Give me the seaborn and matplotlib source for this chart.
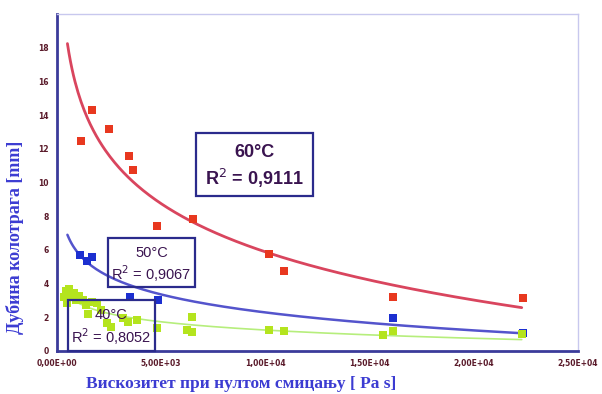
import numpy as np
import pandas as pd
import matplotlib
matplotlib.use("Agg")
import matplotlib.pyplot as plt
import seaborn as sns

# Zero-shear viscosity [Pa s] and rut depth [mm] for each test temperature
x_60 = [1150, 1680, 2480, 3470, 3650, 4820, 6530, 10190, 10910, 16130, 22340]
y_60 = [12.45, 14.3, 13.15, 11.6, 10.75, 7.4, 7.85, 5.75, 4.75, 3.2, 3.12]

x_50 = [1100, 1460, 1660, 3500, 4830, 16130, 22340]
y_50 = [5.7, 5.35, 5.6, 3.22, 3.0, 1.98, 1.05]

x_40 = [340, 430, 580, 670, 480, 820, 910, 1060, 1250, 1390, 1680, 1920, 2110,
        1490, 2400, 2590, 3170, 3410, 3840, 4800, 6230, 6490, 6490, 10190,
        10900, 15660, 16130, 22330]
y_40 = [3.22, 3.58, 3.69, 3.28, 2.86, 3.46, 3.04, 3.28, 3.04, 2.74, 2.92, 2.86, 2.44,
        2.2, 1.67, 1.43, 1.97, 1.73, 1.85, 1.39, 1.25, 2.01, 1.13, 1.25,
        1.19, 0.93, 1.21, 1.01]

labels = ["60°C", "50°C", "40°C"]
r2_text = ["0,9111", "0,9067", "0,8052"]

x_ticks = [0, 5000, 10000, 15000, 20000, 25000]
x_tick_labels = ["0,00E+00", "5,00E+03", "1,00E+04", "1,50E+04", "2,00E+04", "2,50E+04"]
y_ticks = [0, 2, 4, 6, 8, 10, 12, 14, 16, 18, 20]
y_tick_labels = ["0", "2", "4", "6", "8", "10", "12", "14", "16", "18", ""]

trend_x_range = (500, 22300)

df = pd.concat([
    pd.DataFrame({"x": x_60, "y": y_60, "t": labels[0]}),
    pd.DataFrame({"x": x_50, "y": y_50, "t": labels[1]}),
    pd.DataFrame({"x": x_40, "y": y_40, "t": labels[2]}),
], ignore_index=True)

marker_colors = {"60°C": "#e8381f", "50°C": "#1c2fd0", "40°C": "#b4e41e"}
line_colors = {"60°C": "#d9455e", "50°C": "#5454cc", "40°C": "#b6ee7c"}
line_widths = {"60°C": 2.0, "50°C": 1.8, "40°C": 1.2}

sns.set_style("white")
fig = plt.figure(figsize=(6.02, 3.94), dpi=100)
ax = fig.add_axes([57 / 602, 43 / 394, 521 / 602, 337 / 394])

# Logarithmic trend lines y = a + b ln(x), fitted per series
xs = np.linspace(trend_x_range[0], trend_x_range[1], 300)
trend_rows = []
for t in labels:
    sub = df[df["t"] == t]
    b, a = np.polyfit(np.log(sub["x"]), sub["y"], 1)
    trend_rows.append(pd.DataFrame({"x": xs, "y": a + b * np.log(xs), "t": t}))
trend = pd.concat(trend_rows, ignore_index=True)

for t in labels:
    sns.lineplot(data=trend[trend["t"] == t], x="x", y="y", ax=ax,
                 color=line_colors[t], linewidth=line_widths[t], zorder=2)

for t in ["50°C", "60°C", "40°C"]:
    sns.scatterplot(data=df[df["t"] == t], x="x", y="y", ax=ax, marker="s",
                    s=26, color=marker_colors[t], linewidth=0, zorder=3)

ax.set_xlim(0, 25000)
ax.set_ylim(0, 20)
ax.set_xticks(x_ticks)
ax.set_xticklabels(x_tick_labels)
ax.set_yticks(y_ticks)
ax.set_yticklabels(y_tick_labels)
ax.tick_params(axis="both", length=3, width=1, color="#3b3b9a", direction="out",
               labelsize=5.5, labelcolor="#5a1a2a", pad=3)
for lab in ax.get_xticklabels() + ax.get_yticklabels():
    lab.set_fontweight("bold")

for side in ["left", "bottom"]:
    ax.spines[side].set_color("#3b3b9a")
    ax.spines[side].set_linewidth(2)
for side in ["top", "right"]:
    ax.spines[side].set_color("#c8c8ee")
    ax.spines[side].set_linewidth(1)

ax.set_xlabel("")
ax.set_ylabel("")
fig.text(241 / 602, 1 - 384 / 394, "Вискозитет при нултом смицању [ Pa s]",
         ha="center", va="center", fontsize=12.5, fontweight="bold",
         family="Liberation Serif", color="#3c3cd2")
fig.text(15 / 602, 1 - 237 / 394, "Дубина колотрага [mm]", rotation=90,
         ha="center", va="center", fontsize=13, fontweight="bold",
         family="Liberation Serif", color="#3c3cd2")

# Annotation boxes with temperature and R²
box_specs = [
    (labels[0], r2_text[0], (195.7, 133.3, 313.3, 196), 13, "bold"),
    (labels[1], r2_text[1], (108.3, 237.7, 195, 287.3), 10.5, "normal"),
    (labels[2], r2_text[2], (67.7, 300, 155, 351), 10.5, "normal"),
]
for lab, r2, (x0, y0, x1, y1), fs, fw in box_specs:
    rect = plt.Rectangle((x0 / 602, 1 - y1 / 394), (x1 - x0) / 602, (y1 - y0) / 394,
                         transform=fig.transFigure, fill=False,
                         edgecolor="#2b2b8c", linewidth=1.6, zorder=4)
    fig.add_artist(rect)
    cx = (x0 + x1) / 2 / 602
    h = (y1 - y0) / 394
    top = 1 - y0 / 394
    fig.text(cx, top - h * 0.3, lab, ha="center", va="center", fontsize=fs,
             fontweight=fw, family="Liberation Sans", color="#3a1450", zorder=5)
    fig.text(cx, top - h * 0.72, "R$^2$ = " + r2, ha="center", va="center",
             fontsize=fs, fontweight=fw, family="Liberation Sans",
             color="#3a1450", zorder=5)

fig.savefig("out.png", dpi=100)
